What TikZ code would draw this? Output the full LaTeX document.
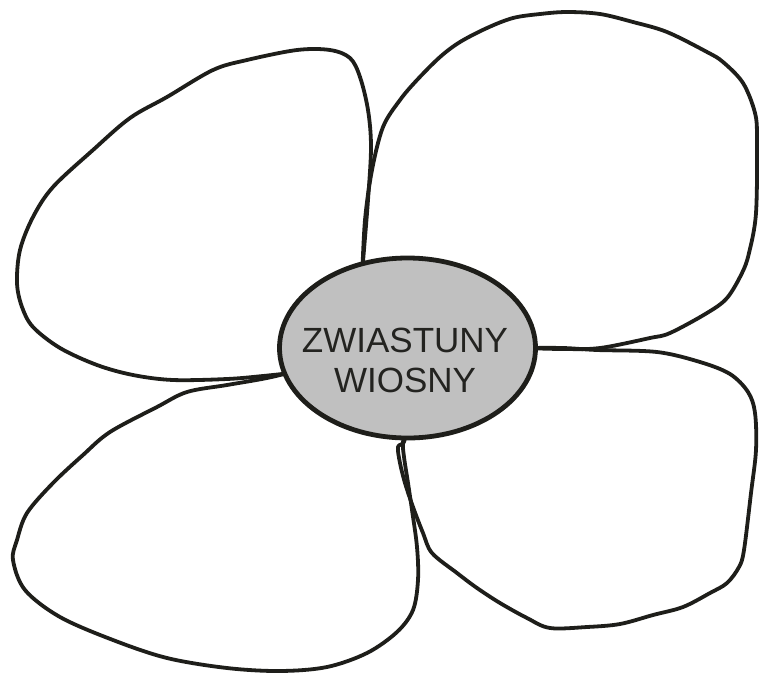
\documentclass[tikz,border=0pt]{standalone}
\usepackage{fontspec}
\setmainfont{Liberation Sans}
\usetikzlibrary{shapes.geometric}
\definecolor{ink}{RGB}{30,30,26}
\definecolor{centerfill}{RGB}{192,192,192}
\definecolor{txt}{RGB}{35,35,32}
\tikzset{
  petal/.style={draw=ink, line width=3.8pt, line join=round, line cap=round},
  hub/.style={ellipse, draw=ink, line width=4.8pt, fill=centerfill, inner sep=0pt,
              minimum width=256pt, minimum height=180pt},
  label/.style={font=\fontsize{35}{40}\selectfont, text=txt, inner sep=0pt, anchor=base}
}
\begin{document}
\begin{tikzpicture}[x=1pt, y=-1pt]
\useasboundingbox (0,0) rectangle (760,673);
% top-left petal
\draw[petal] plot[smooth, tension=0.55] coordinates {
 (300,372) (263,376) (227,379) (173,380) (133,375) (97,365) (60,348) (33,327)
 (22,307) (17,283) (20,250) (33,217) (53,187) (93,150) (130,118) (167,97)
 (213,70) (247,60) (297,50) (330,50) (350,58) (360,77) (368,110) (371,147)
 (368,200) (363,262) (362,280)};
% top-right petal
\draw[petal] plot[smooth, tension=0.55] coordinates {
 (362,280) (365,220) (372,170) (383,127) (400,100) (417,80) (440,57) (460,42)
 (487,28) (513,18) (540,14) (567,12) (600,14) (633,22) (667,32) (707,52)
 (723,62) (743,83) (755,113) (757,140) (756,213) (749,253) (742,273)
 (727,298) (707,313) (670,333) (650,338) (600,348) (563,349) (525,348)};
% bottom-right petal
\draw[petal] plot[smooth, tension=0.55] coordinates {
 (525,348) (563,348) (597,350) (657,352) (700,362) (730,374) (748,392)
 (755,413) (756,450) (751,493) (744,550) (739,567) (727,583) (710,593)
 (683,607) (653,615) (620,624) (587,627) (550,628) (527,618) (500,603)
 (477,588) (457,573) (432,553) (423,533) (413,507) (405,483) (400,463)
 (398,447) (404,442) (407,425)};
% bottom-left petal
\draw[petal] plot[smooth, tension=0.55] coordinates {
 (300,370) (267,378) (227,385) (187,392) (157,407) (110,432) (83,455)
 (53,483) (27,513) (17,540) (13,560) (25,590) (60,617) (113,640) (167,658)
 (227,668) (280,671) (327,667) (367,653) (397,632) (413,610) (418,580)
 (417,547) (412,510) (408,483) (404,457) (403,442) (407,425)};
% centre
\node[hub] (hub) at (407.5,348) {};
\node[label] (line1) at (405,352) {ZWIASTUNY};
\node[label] (line2) at (405,392) {WIOSNY};
\end{tikzpicture}
\end{document}
